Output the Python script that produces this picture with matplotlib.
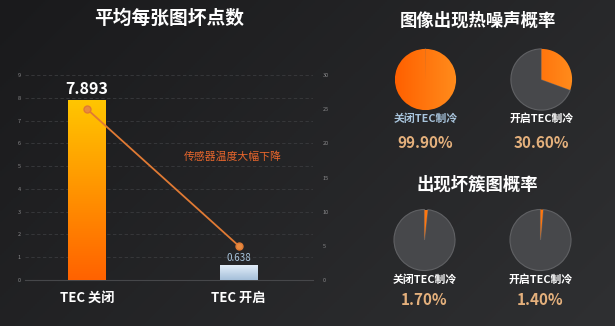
import numpy as np
import matplotlib
matplotlib.use('Agg')
import matplotlib.pyplot as plt
from matplotlib.colors import LinearSegmentedColormap

plt.rcParams['font.family'] = ['Noto Sans CJK SC', 'DejaVu Sans']

# ---------------- data ----------------
title_left = '平均每张图坏点数'
categories = ['TEC 关闭', 'TEC 开启']
bad_pixels = [7.893, 0.638]
sensor_temp = [25, 5]
left_ticks = list(range(0, 10))
right_ticks = list(range(0, 31, 5))
annotation = '传感器温度大幅下降'

title_noise = '图像出现热噪声概率'
title_cluster = '出现坏簇图概率'
pie_labels = ['关闭TEC制冷', '开启TEC制冷']
noise_prob = [99.90, 30.60]
cluster_prob = [1.70, 1.40]

# ---------------- layout helpers ----------------
W, H = 615, 326
fig = plt.figure(figsize=(W / 100, H / 100), dpi=100)


def px(x0, y0, x1, y1):
    return [x0 / W, 1 - y1 / H, (x1 - x0) / W, (y1 - y0) / H]


# background gradient
bg = fig.add_axes([0, 0, 1, 1])
bg.axis('off')
gx = np.linspace(0, 1, 300)
gy = np.linspace(0, 1, 160)
X, Y = np.meshgrid(gx, gy)
Z = 0.65 * X + 0.35 * Y
bg.imshow(Z, cmap=LinearSegmentedColormap.from_list('bg', ['#1a1a1c', '#2f3032']),
          aspect='auto', extent=[0, 1, 0, 1], origin='upper')
bg.set_xlim(0, 1)
bg.set_ylim(0, 1)

# ---------------- left: bar + line ----------------
ax = fig.add_axes(px(25, 75, 313, 280))
ax.set_facecolor('none')
x = np.arange(len(categories))
bars = ax.bar(x, bad_pixels, width=0.25, color='none', zorder=3)
grads = [('#ff6200', '#ffc600'), ('#a4bfda', '#e2edf8')]
for b, (bot, top) in zip(bars, grads):
    x0, y0, w, h = b.get_x(), b.get_y(), b.get_width(), b.get_height()
    cm = LinearSegmentedColormap.from_list('g', [bot, top])
    im = ax.imshow(np.linspace(0, 1, 256).reshape(-1, 1), cmap=cm, origin='lower',
                   extent=[x0, x0 + w, y0, y0 + h], aspect='auto', zorder=3)
    im.set_clip_path(b)

ax.set_xlim(-0.41, 1.49)
ax.set_ylim(0, 9)
ax.set_yticks(left_ticks)
ax.yaxis.grid(True, linestyle=(0, (4, 3)), color='#3a3b3e', lw=0.6)
ax.set_axisbelow(True)
for s in ['top', 'right', 'left']:
    ax.spines[s].set_visible(False)
ax.spines['bottom'].set_color('#46474a')
ax.spines['bottom'].set_linewidth(0.8)
ax.tick_params(axis='y', length=0, labelsize=4, labelcolor='#8a8a8c', pad=3)
ax.set_xticks(x, categories)
ax.tick_params(axis='x', length=0, labelsize=9.5, labelcolor='white', pad=8)
for t in ax.get_xticklabels():
    t.set_fontweight('bold')

ax.annotate(f'{bad_pixels[0]:.3f}', (x[0], bad_pixels[0]), xytext=(0, 2),
            textcoords='offset points', ha='center', va='bottom',
            fontsize=11.5, fontweight='bold', color='white', zorder=6)
ax.annotate(f'{bad_pixels[1]:.3f}', (x[1], bad_pixels[1]), xytext=(0, 2),
            textcoords='offset points', ha='center', va='bottom',
            fontsize=7, color='#a8c4dc', zorder=6)

ax2 = ax.twinx()
ax2.set_ylim(0, 30)
ax2.set_yticks(right_ticks)
for s in ['top', 'right', 'left', 'bottom']:
    ax2.spines[s].set_visible(False)
ax2.tick_params(axis='y', length=0, labelsize=4, labelcolor='#8a8a8c', pad=7)
ax2.plot(x, sensor_temp, color='#e07a34', lw=1.3, marker='o', ms=5,
         mfc='#e88a40', mec='#e07a34', zorder=5)
ax2.text(0.72, 0.60, annotation, transform=ax.transAxes, ha='center', va='center',
         fontsize=7.8, color='#e8662c')

fig.text(169 / W, 1 - 18 / H, title_left, ha='center', va='center',
         fontsize=13.5, fontweight='bold', color='white')

# ---------------- right: pies ----------------
orange_cm = LinearSegmentedColormap.from_list('o', ['#ff6000', '#ff8c1c'])


def draw_pie(cx, cy, r, value):
    pa = fig.add_axes(px(cx - r * 1.03, cy - r * 1.03, cx + r * 1.03, cy + r * 1.03))
    wedges, _ = pa.pie([value, 100 - value], startangle=90, counterclock=False,
                       colors=['none', '#47484b'], radius=1,
                       wedgeprops=dict(linewidth=0))
    wedges[1].set_edgecolor('#606164')
    wedges[1].set_linewidth(0.8)
    im = pa.imshow(np.linspace(0, 1, 256).reshape(1, -1), cmap=orange_cm,
                   extent=[-1, 1, -1, 1], aspect='auto', zorder=3)
    im.set_clip_path(wedges[0])
    pa.set_xlim(-1.03, 1.03)
    pa.set_ylim(-1.03, 1.03)
    pa.set_aspect('equal')
    pa.axis('off')


label_colors = ['#a8c4dc', 'white']
pct_color = '#e4b07c'

fig.text(477.5 / W, 1 - 20.5 / H, title_noise, ha='center', va='center',
         fontsize=12.5, fontweight='bold', color='white')
fig.text(477.5 / W, 1 - 185 / H, title_cluster, ha='center', va='center',
         fontsize=12.5, fontweight='bold', color='white')

pie_cx = [425.5, 541.5]
for i, v in enumerate(noise_prob):
    draw_pie(pie_cx[i], 79.5, 30.6, v)
    fig.text(pie_cx[i] / W, 1 - 119 / H, pie_labels[i], ha='center', va='center',
             fontsize=7.8, fontweight='bold', color=label_colors[i])
    fig.text(pie_cx[i] / W, 1 - 143 / H, f'{v:.2f}%', ha='center', va='center',
             fontsize=11, fontweight='bold', color=pct_color)

pie_cx2 = [424.5, 540.5]
for i, v in enumerate(cluster_prob):
    draw_pie(pie_cx2[i], 240, 30.5, v)
    fig.text(pie_cx2[i] / W, 1 - 280 / H, pie_labels[i], ha='center', va='center',
             fontsize=7.8, fontweight='bold', color='white')
    fig.text(pie_cx2[i] / W, 1 - 300 / H, f'{v:.2f}%', ha='center', va='center',
             fontsize=11, fontweight='bold', color=pct_color)

fig.savefig('out.png', dpi=100)
